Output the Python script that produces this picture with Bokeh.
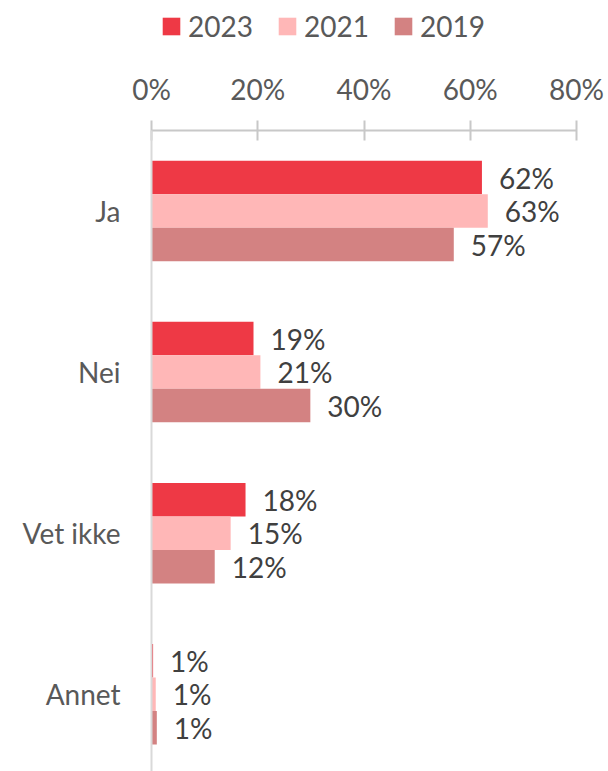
from bokeh.plotting import figure
from bokeh.layouts import column
from bokeh.models import Range1d, FixedTicker, Legend, LegendItem, ColumnDataSource
from bokeh.core.properties import value
from bokeh.embed import file_html
from bokeh.resources import INLINE

categories = ["Ja", "Nei", "Vet ikke", "Annet"]
series = ["2023", "2021", "2019"]
v2023 = [62.2, 19.2, 17.7, 0.3]
v2021 = [63.3, 20.5, 14.9, 0.8]
v2019 = [56.9, 29.9, 11.9, 1.0]
lab2023 = ["62%", "19%", "18%", "1%"]
lab2021 = ["63%", "21%", "15%", "1%"]
lab2019 = ["57%", "30%", "12%", "1%"]
x_ticks = [0, 20, 40, 60, 80]
x_tick_labels = ["0%", "20%", "40%", "60%", "80%"]

colors = ["#EE3945", "#FFB7B7", "#D38282"]
FONT = "Lato"
FS = "28px"

LEG_H = 50

# ---- legend strip ----
lg = figure(width=608, height=LEG_H, output_backend="svg", toolbar_location=None,
            x_range=Range1d(0, 1), y_range=Range1d(0, 1),
            x_axis_location=None, y_axis_location=None,
            min_border_left=0, min_border_right=0, min_border_top=0, min_border_bottom=0)
lg.outline_line_color = None
lg.xgrid.visible = False
lg.ygrid.visible = False
items = []
for s, c in zip(series, colors):
    # legend-only renderer: zero-width bar far outside the visible range
    r = lg.hbar(y=[-100], right=[0], left=0, height=0.5, fill_color=c, line_color=None)
    items.append(LegendItem(label=s, renderers=[r]))
legend = Legend(items=items, orientation="horizontal", location=(9, 7))
legend.glyph_width = 22
legend.glyph_height = 22
legend.label_standoff = 6
legend.spacing = 23
legend.padding = 0
legend.margin = 0
legend.border_line_color = None
legend.background_fill_alpha = 0
legend.label_text_font = FONT
legend.label_text_font_size = FS
legend.label_text_color = "#595959"
lg.add_layout(legend, "center")

# ---- main chart ----
p = figure(width=608, height=771 - LEG_H, output_backend="svg", toolbar_location=None,
           x_range=Range1d(0, 80), y_range=Range1d(3.48, -0.5),
           x_axis_location="above", min_border_left=151, min_border_right=32,
           min_border_top=130 - LEG_H, min_border_bottom=0)
p.outline_line_color = None
p.xgrid.visible = False
p.ygrid.visible = False

bar_h = 0.208
offsets = [-bar_h, 0.0, bar_h]
vals = [v2023, v2021, v2019]
labs = [lab2023, lab2021, lab2019]
for s, v, lab, off, c in zip(series, vals, labs, offsets, colors):
    src = ColumnDataSource(dict(
        y=[i + off for i in range(len(categories))],
        right=v,
        label=lab,
    ))
    p.hbar(y="y", right="right", left=0, height=bar_h, source=src,
           fill_color=c, line_color=None)
    p.text(x="right", y="y", text="label", source=src, x_offset=17,
           text_align="left", text_baseline="middle",
           text_font=value(FONT), text_font_size=FS, text_color="#404040")

xa = p.xaxis[0]
xa.ticker = FixedTicker(ticks=x_ticks)
xa.major_label_overrides = {t: l for t, l in zip(x_ticks, x_tick_labels)}
xa.major_label_text_font = FONT
xa.major_label_text_font_size = FS
xa.major_label_text_color = "#595959"
xa.major_tick_in = 10
xa.major_tick_out = 10
xa.minor_tick_in = 0
xa.minor_tick_out = 0
xa.major_tick_line_color = "#C8C8C8"
xa.major_tick_line_width = 2
xa.axis_line_color = "#C8C8C8"
xa.axis_line_width = 2
xa.major_label_standoff = 15

ya = p.yaxis[0]
ya.ticker = FixedTicker(ticks=list(range(len(categories))))
ya.major_label_overrides = {i: c for i, c in enumerate(categories)}
ya.major_label_text_font = FONT
ya.major_label_text_font_size = FS
ya.major_label_text_color = "#595959"
ya.major_tick_in = 0
ya.major_tick_out = 0
ya.minor_tick_in = 0
ya.minor_tick_out = 0
ya.axis_line_color = "#D9D9D9"
ya.axis_line_width = 2
ya.major_label_standoff = 31

layout = column(lg, p, spacing=0)
open("out.html", "w").write(file_html(layout, INLINE))
